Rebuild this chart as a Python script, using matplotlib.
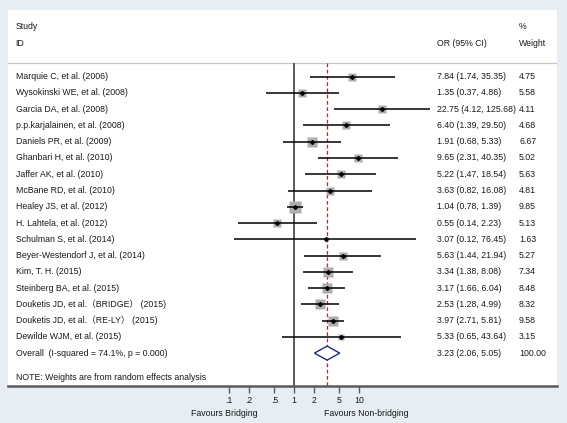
import matplotlib
matplotlib.use('Agg')
import matplotlib.pyplot as plt
import numpy as np
from matplotlib.patches import Polygon

plt.rcParams['font.family'] = ['Liberation Sans', 'Noto Sans CJK SC', 'DejaVu Sans']

studies = [
    "Marquie C, et al. (2006)",
    "Wysokinski WE, et al. (2008)",
    "Garcia DA, et al. (2008)",
    "p.p.karjalainen, et al. (2008)",
    "Daniels PR, et al. (2009)",
    "Ghanbari H, et al. (2010)",
    "Jaffer AK, et al. (2010)",
    "McBane RD, et al. (2010)",
    "Healey JS, et al. (2012)",
    "H. Lahtela, et al. (2012)",
    "Schulman S, et al. (2014)",
    "Beyer-Westendorf J, et al. (2014)",
    "Kim, T. H. (2015)",
    "Steinberg BA, et al. (2015)",
    "Douketis JD, et al.\uff08BRIDGE\uff09 (2015)",
    "Douketis JD, et al.\uff08RE-LY\uff09 (2015)",
    "Dewilde WJM, et al. (2015)",
]
odds = [7.84, 1.35, 22.75, 6.40, 1.91, 9.65, 5.22, 3.63, 1.04, 0.55, 3.07, 5.63, 3.34, 3.17, 2.53, 3.97, 5.33]
ci_low = [1.74, 0.37, 4.12, 1.39, 0.68, 2.31, 1.47, 0.82, 0.78, 0.14, 0.12, 1.44, 1.38, 1.66, 1.28, 2.71, 0.65]
ci_high = [35.35, 4.86, 125.68, 29.50, 5.33, 40.35, 18.54, 16.08, 1.39, 2.23, 76.45, 21.94, 8.08, 6.04, 4.99, 5.81, 43.64]
weights = [4.75, 5.58, 4.11, 4.68, 6.67, 5.02, 5.63, 4.81, 9.85, 5.13, 1.63, 5.27, 7.34, 8.48, 8.32, 9.58, 3.15]
overall_or, overall_lo, overall_hi, overall_w = 3.23, 2.06, 5.05, 100.00
overall_label = "Overall  (I-squared = 74.1%, p = 0.000)"
note_text = "NOTE: Weights are from random effects analysis"
tick_values = [0.1, 0.2, 0.5, 1, 2, 5, 10]
tick_labels = ['.1', '.2', '.5', '1', '2', '5', '10']

FS = 6.35
W, H = 567, 423
fig = plt.figure(figsize=(W / 100, H / 100), dpi=100, facecolor='#e6eef3')
L, R, T, B = 8, 557, 10, 386
ax = fig.add_axes([L / W, (H - B) / H, (R - L) / W, (B - T) / H])
ax.set_facecolor('white')
ax.set_xscale('log')
x_one, ppd = 294.0, 65.0
ax.set_xlim(10 ** ((L - x_one) / ppd), 10 ** ((R - x_one) / ppd))
row_h, y_first = 16.26, 76.7
ax.set_ylim((B - y_first) / row_h, (T - y_first) / row_h)

def fx(px):
    return (px - L) / (R - L)

tr = ax.get_yaxis_transform()
n = len(studies)
rows = np.arange(n)
header_y = -0.86
bottom_y = ax.get_ylim()[0]
TXT = '#1a1a1a'

# header
ax.axhline(header_y, color='#c4c4c4', lw=0.9, zorder=1)
ax.text(fx(15.5), -3.07, "Study", transform=tr, fontsize=FS, va='center', ha='left', color=TXT)
ax.text(fx(15.5), -2.05, "ID", transform=tr, fontsize=FS, va='center', ha='left', color=TXT)
ax.text(fx(437), -2.05, "OR (95% CI)", transform=tr, fontsize=FS, va='center', ha='left', color=TXT)
ax.text(fx(519), -3.07, "%", transform=tr, fontsize=FS, va='center', ha='left', color=TXT)
ax.text(fx(519), -2.05, "Weight", transform=tr, fontsize=FS, va='center', ha='left', color=TXT)

# reference lines
ax.vlines(1, header_y, bottom_y, color='#5a5a5a', lw=1.4, zorder=2)
ax.vlines(overall_or, header_y, bottom_y, color='#a83232', lw=0.9, linestyles=(0, (3, 2)), zorder=2)

# studies
ax.hlines(rows, ci_low, ci_high, color='black', lw=1.1, zorder=3)
for i in range(n):
    ax.plot(odds[i], rows[i], marker='s', ms=2.55 * np.sqrt(weights[i]), color='#adadad',
            mec='none', zorder=2.5)
ax.plot(odds, rows, ls='none', marker='D', ms=2.0, color='black', zorder=4)

for i in range(n):
    ax.text(fx(15.5), rows[i], studies[i], transform=tr, fontsize=FS, va='center', ha='left', color=TXT)
    ax.text(fx(437), rows[i], f"{odds[i]:.2f} ({ci_low[i]:.2f}, {ci_high[i]:.2f})",
            transform=tr, fontsize=FS, va='center', ha='left', color=TXT)
    ax.text(fx(519), rows[i], f"{weights[i]:.2f}", transform=tr, fontsize=FS, va='center',
            ha='left', color=TXT)

# overall diamond
oy = n
dh = 0.43
ax.add_patch(Polygon([(overall_lo, oy), (overall_or, oy - dh), (overall_hi, oy), (overall_or, oy + dh)],
                     closed=True, facecolor='white', edgecolor='#1c2a86', lw=1.0, zorder=5))
ax.text(fx(15.5), oy, overall_label, transform=tr, fontsize=FS, va='center', ha='left', color=TXT)
ax.text(fx(437), oy, f"{overall_or:.2f} ({overall_lo:.2f}, {overall_hi:.2f})",
        transform=tr, fontsize=FS, va='center', ha='left', color=TXT)
ax.text(fx(519), oy, f"{overall_w:.2f}", transform=tr, fontsize=FS, va='center', ha='left', color=TXT)

ax.text(fx(15.5), 18.47, note_text, transform=tr, fontsize=FS, va='center', ha='left', color=TXT)

# axes styling
for s in ['top', 'left', 'right']:
    ax.spines[s].set_visible(False)
ax.spines['bottom'].set_color('#5a5a5a')
ax.spines['bottom'].set_linewidth(1.8)
ax.set_yticks([])
ax.set_xticks(tick_values)
ax.set_xticklabels(tick_labels, fontsize=FS, color=TXT)
ax.minorticks_off()
ax.tick_params(axis='x', direction='out', length=5, width=1, color='#5a5a5a', pad=2.5)

ax.text(fx(224), (B - 413) / (B - T), "Favours Bridging", transform=ax.transAxes,
        fontsize=FS, ha='center', va='center', color=TXT)
ax.text(fx(366), (B - 413) / (B - T), "Favours Non-bridging", transform=ax.transAxes,
        fontsize=FS, ha='center', va='center', color=TXT)

fig.savefig('out.png', dpi=100, facecolor=fig.get_facecolor())
